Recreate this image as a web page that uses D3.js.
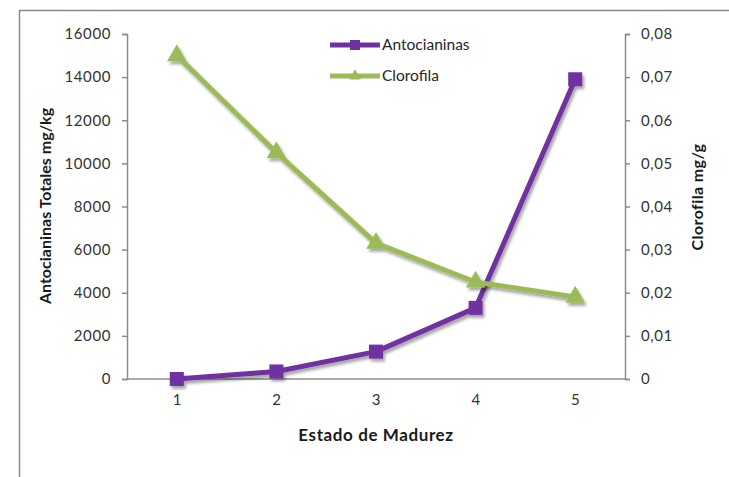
<!DOCTYPE html>
<html>
<head>
<meta charset="utf-8">
<script src="https://cdn.jsdelivr.net/npm/d3@7"></script>
<style>
  html, body { margin: 0; padding: 0; background: #fff; }
  svg { display: block; font-family: Lato, "Open Sans", sans-serif; }
</style>
</head>
<body>
<svg id="chart" width="729" height="477"></svg>
<script>
// Ripening stages and measured series
const estados = [1, 2, 3, 4, 5];
const antocianinas = [0, 350, 1270, 3300, 13900];      // mg/kg
const clorofila = [0.075, 0.0525, 0.0315, 0.0225, 0.019]; // mg/g
const ticksIzq = [0, 2000, 4000, 6000, 8000, 10000, 12000, 14000, 16000];
const ticksDer = [0, 0.01, 0.02, 0.03, 0.04, 0.05, 0.06, 0.07, 0.08];

const svg = d3.select("#chart");
const colorAnto = "#7030A0";
const colorCloro = "#9BBB59";
const axisColor = "#8c8c8c";
const textColor = "#333";

// Soft drop shadow under lines and markers
const defs = svg.append("defs");
const f = defs.append("filter").attr("id", "sombra")
  .attr("x", "-20%").attr("y", "-20%").attr("width", "140%").attr("height", "140%");
f.append("feGaussianBlur").attr("in", "SourceAlpha").attr("stdDeviation", 1.6).attr("result", "b");
f.append("feOffset").attr("in", "b").attr("dx", 1.5).attr("dy", 2.5).attr("result", "o");
f.append("feComponentTransfer").attr("in", "o").attr("result", "s")
  .append("feFuncA").attr("type", "linear").attr("slope", 0.35);
const m = f.append("feMerge");
m.append("feMergeNode").attr("in", "s");
m.append("feMergeNode").attr("in", "SourceGraphic");

// Outer chart frame (only top and left edges fall inside the view)
svg.append("path")
  .attr("d", "M19.5,477 V10.5 H729")
  .attr("fill", "none").attr("stroke", "#8a8a8a").attr("stroke-width", 1.5);

const plotLeft = 127, plotRight = 625, plotTop = 34, plotBottom = 379;

const x = d3.scalePoint().domain(estados).range([plotLeft, plotRight]).padding(0.5);
const yL = d3.scaleLinear().domain([0, 16000]).range([plotBottom, plotTop]);
const yR = d3.scaleLinear().domain([0, 0.08]).range([plotBottom, plotTop]);

function styleAxis(g) {
  g.selectAll("path.domain").attr("stroke", axisColor).attr("stroke-width", 1.5);
  g.selectAll(".tick line").attr("stroke", axisColor).attr("stroke-width", 1.5);
  g.selectAll(".tick text").attr("fill", textColor)
    .style("font-size", "15px").style("letter-spacing", "0.6px")
    .style("font-family", "Lato, 'Open Sans', sans-serif");
}

// Left axis
const gL = svg.append("g").attr("transform", `translate(${plotLeft},0)`)
  .call(d3.axisLeft(yL).tickValues(ticksIzq).tickSize(5).tickSizeOuter(5).tickPadding(11)
    .tickFormat(d => String(d)));
styleAxis(gL);

// Right axis
const fmtComa = d => d === 0 ? "0" : d.toFixed(2).replace(".", ",");
const gR = svg.append("g").attr("transform", `translate(${plotRight},0)`)
  .call(d3.axisRight(yR).tickValues(ticksDer).tickSize(5).tickSizeOuter(5).tickPadding(11)
    .tickFormat(fmtComa));
styleAxis(gR);

// Bottom axis (no tick marks)
const gX = svg.append("g").attr("transform", `translate(0,${plotBottom})`)
  .call(d3.axisBottom(x).tickSize(0).tickPadding(15));
gX.select("path.domain").attr("d", `M${plotLeft},0H${plotRight}`);
styleAxis(gX);

// Axis titles
svg.append("text")
  .attr("transform", `translate(51,206) rotate(-90)`)
  .attr("text-anchor", "middle")
  .attr("fill", "#1a1a1a").style("font-size", "16px").style("font-weight", "bold")
  .text("Antocianinas Totales mg/kg");

svg.append("text")
  .attr("transform", `translate(703,197) rotate(-90)`)
  .attr("text-anchor", "middle")
  .attr("fill", "#1a1a1a").style("font-size", "16px").style("font-weight", "bold")
  .style("letter-spacing", "0.4px")
  .text("Clorofila mg/g");

svg.append("text")
  .attr("x", 376).attr("y", 441)
  .attr("text-anchor", "middle")
  .attr("fill", "#1a1a1a").style("font-size", "17px").style("font-weight", "bold")
  .style("letter-spacing", "0.6px")
  .text("Estado de Madurez");

// Series
const lineL = d3.line().x((d, i) => x(estados[i])).y(d => yL(d));
const lineR = d3.line().x((d, i) => x(estados[i])).y(d => yR(d));
const sq = 14;
const tri = d3.symbol().type(d3.symbolTriangle).size(165);

const gA = svg.append("g").attr("filter", "url(#sombra)");
gA.append("path").datum(antocianinas)
  .attr("d", lineL).attr("fill", "none")
  .attr("stroke", colorAnto).attr("stroke-width", 5).attr("stroke-linejoin", "round");
gA.selectAll("rect").data(antocianinas).join("rect")
  .attr("x", (d, i) => x(estados[i]) - sq / 2)
  .attr("y", d => yL(d) - sq / 2)
  .attr("width", sq).attr("height", sq)
  .attr("fill", colorAnto);

const gC = svg.append("g").attr("filter", "url(#sombra)");
gC.append("path").datum(clorofila)
  .attr("d", lineR).attr("fill", "none")
  .attr("stroke", colorCloro).attr("stroke-width", 5).attr("stroke-linejoin", "round");
gC.selectAll("path.m").data(clorofila).join("path").attr("class", "m")
  .attr("transform", (d, i) => `translate(${x(estados[i])},${yR(d)})`)
  .attr("d", tri)
  .attr("fill", colorCloro);

// Legend
const leyenda = [
  { nombre: "Antocianinas", color: colorAnto, tipo: "sq" },
  { nombre: "Clorofila", color: colorCloro, tipo: "tri" }
];
const lg = svg.append("g").attr("transform", "translate(330,45)");
leyenda.forEach((s, i) => {
  const g = lg.append("g").attr("transform", `translate(0,${i * 31})`);
  g.append("line").attr("x1", 0).attr("x2", 50).attr("y1", 0).attr("y2", 0)
    .attr("stroke", s.color).attr("stroke-width", 5);
  if (s.tipo === "sq") {
    g.append("rect").attr("x", 20).attr("y", -5).attr("width", 10).attr("height", 10).attr("fill", s.color);
  } else {
    g.append("path").attr("transform", "translate(25,0)")
      .attr("d", d3.symbol().type(d3.symbolTriangle).size(60)).attr("fill", s.color);
  }
  g.append("text").attr("x", 52).attr("y", 0).attr("dy", "0.35em")
    .attr("fill", "#262626").style("font-size", "15.5px")
    .text(s.nombre);
});
</script>
</body>
</html>
